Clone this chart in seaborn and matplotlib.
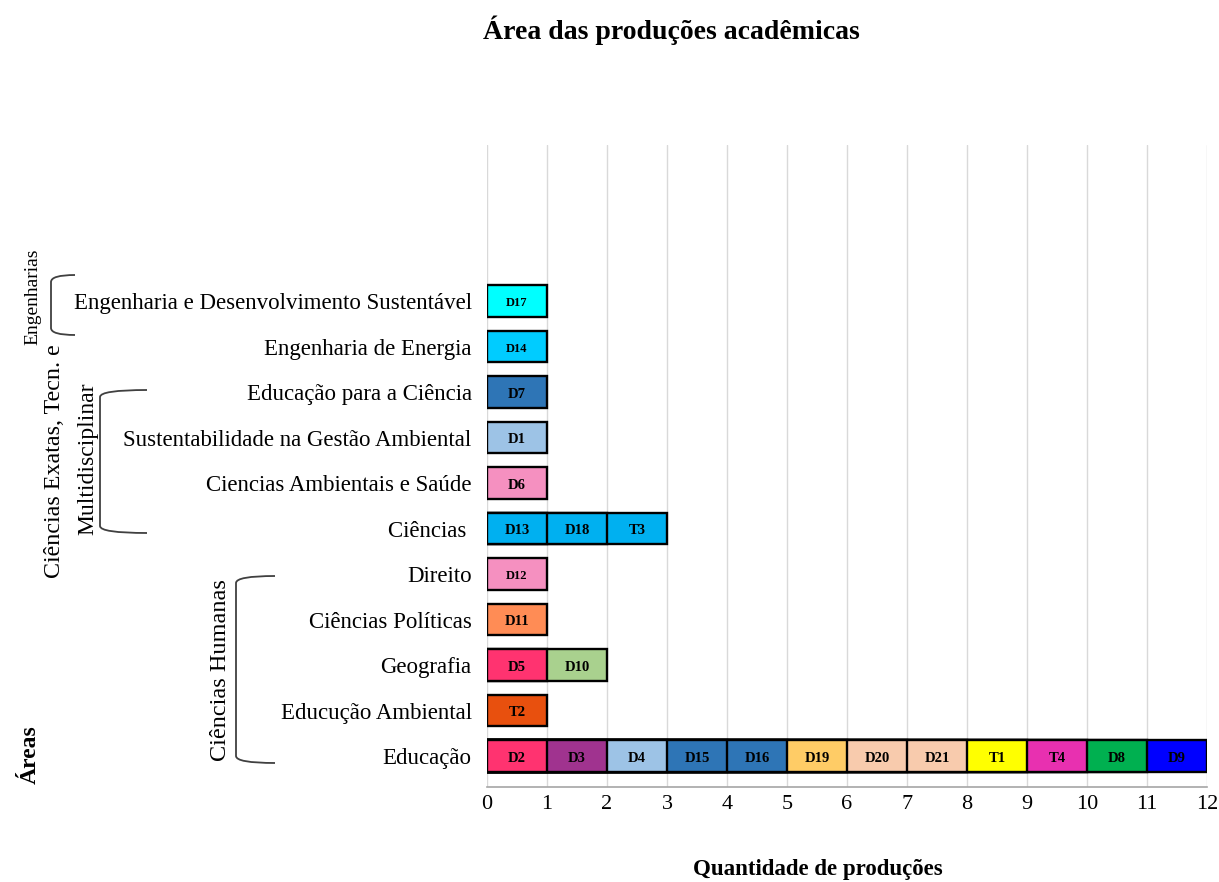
import matplotlib
matplotlib.use("Agg")
import matplotlib.pyplot as plt
from matplotlib.path import Path
from matplotlib.patches import PathPatch
import seaborn as sns
import pandas as pd

# Categories, listed from top to bottom
categories = [
    "Engenharia e Desenvolvimento Sustentável",
    "Engenharia de Energia",
    "Educação para a Ciência",
    "Sustentabilidade na Gestão Ambiental",
    "Ciencias Ambientais e Saúde",
    "Ciências ",
    "Direito",
    "Ciências Políticas",
    "Geografia",
    "Educução Ambiental",
    "Educação",
]

# Productions (dissertations D / theses T) in each category, one unit each
productions = [
    ["D17"],
    ["D14"],
    ["D7"],
    ["D1"],
    ["D6"],
    ["D13", "D18", "T3"],
    ["D12"],
    ["D11"],
    ["D5", "D10"],
    ["T2"],
    ["D2", "D3", "D4", "D15", "D16", "D19", "D20", "D21", "T1", "T4", "D8", "D9"],
]

production_colors = {
    "D17": "#00FFFF", "D14": "#00CCFF", "D7": "#2E75B6", "D1": "#9DC3E6",
    "D6": "#F590C0", "D13": "#00B0F0", "D18": "#00B0F0", "T3": "#00B0F0",
    "D12": "#F590C0", "D11": "#FF8C55", "D5": "#FF3370", "D10": "#A9D18E",
    "T2": "#E8500E", "D2": "#FF3370", "D3": "#A0338F", "D4": "#9DC3E6",
    "D15": "#2E75B6", "D16": "#2E75B6", "D19": "#FFCC66", "D20": "#F8CBAD",
    "D21": "#F8CBAD", "T1": "#FFFF00", "T4": "#E830B0", "D8": "#00B050",
    "D9": "#0000FF",
}

x_ticks = list(range(0, 13))

title = "Área das produções acadêmicas"
x_title = "Quantidade de produções"
y_title = "Áreas"

# Long table: one row per production with its running total in the category
records = []
for cat, codes in zip(categories, productions):
    total = 0
    for pos, code in enumerate(codes):
        total += 1
        records.append({"category": cat, "code": code, "position": pos,
                        "total": total})
df = pd.DataFrame(records)

sns.set_theme(style="white")
plt.rcParams["font.family"] = ["Liberation Serif", "DejaVu Serif"]
plt.rcParams["text.color"] = "black"
plt.rcParams["xtick.color"] = "black"
plt.rcParams["ytick.color"] = "black"

W, H = 1219, 882
fig = plt.figure(figsize=(W / 100, H / 100), dpi=100)
ax = fig.add_axes([487 / W, 1 - 787 / H, 720 / W, 642 / H])

# Stacked bars: draw running totals from the outermost segment inwards
for pos in sorted(df["position"].unique(), reverse=True):
    layer = df[df["position"] == pos]
    palette = {row.category: production_colors[row.code]
               for row in layer.itertuples()}
    sns.barplot(data=layer, x="total", y="category", hue="category",
                order=categories, palette=palette, orient="h", dodge=False,
                width=0.7, saturation=1, edgecolor="black", linewidth=1.7,
                legend=False, ax=ax)

small_labels = {"D17", "D14", "D12"}
for row in df.itertuples():
    y = categories.index(row.category)
    ax.text(row.total - 0.5, y + 0.05, row.code, ha="center", va="center",
            fontsize=9 if row.code in small_labels else 10.5,
            fontweight="bold", color="black")

ax.set_xlim(0, 12)
ax.set_ylim(len(categories) - 1 + 0.68, -3.43)
ax.set_xticks(x_ticks)
ax.set_xticklabels([str(t) for t in x_ticks], fontsize=16)
ax.tick_params(axis="x", direction="out", length=4, width=1,
               color="#A6A6A6", labelcolor="black", pad=2)
ax.tick_params(axis="y", length=0, pad=11, labelsize=16.5,
               labelcolor="black")
ax.set_xlabel("")
ax.set_ylabel("")
ax.xaxis.grid(True, color="#D9D9D9", linewidth=1.0)
ax.yaxis.grid(False)
ax.set_axisbelow(True)
for side in ["top", "right", "left"]:
    ax.spines[side].set_visible(False)
ax.spines["bottom"].set_color("#A6A6A6")
ax.spines["bottom"].set_linewidth(1.2)


def fx(px):
    return px / W


def fy(py):
    return 1 - py / H


fig.text(fx(671), fy(30), title, ha="center", va="center",
         fontsize=20, fontweight="bold")
fig.text(fx(818), fy(870), x_title, ha="center", va="center",
         fontsize=16.5, fontweight="bold")
fig.text(fx(30), fy(755), y_title, ha="center", va="center",
         rotation=90, fontsize=17, fontweight="bold")

# Group names and their brackets
fig.text(fx(33), fy(297), "Engenharias", ha="center", va="center",
         rotation=90, fontsize=14)
fig.text(fx(55), fy(461), "Ciências Exatas, Tecn. e", ha="center",
         va="center", rotation=90, fontsize=17.3)
fig.text(fx(88), fy(459), "Multidisciplinar", ha="center", va="center",
         rotation=90, fontsize=17)
fig.text(fx(220), fy(670), "Ciências Humanas", ha="center", va="center",
         rotation=90, fontsize=17.5)


def bracket(xv, top, bot, xe):
    verts = [
        (fx(xe), fy(top)), (fx(xv), fy(top)), (fx(xv), fy(top + 7)),
        (fx(xv), fy(bot - 7)),
        (fx(xv), fy(bot)), (fx(xe), fy(bot)),
    ]
    codes = [Path.MOVETO, Path.CURVE3, Path.CURVE3, Path.LINETO,
             Path.CURVE3, Path.CURVE3]
    fig.add_artist(PathPatch(Path(verts, codes), transform=fig.transFigure,
                             fill=False, edgecolor="#404040", linewidth=1.3))


bracket(51, 275, 335, 75)
bracket(100, 390, 533, 147)
bracket(236, 576, 763, 275)

fig.savefig("out.png", dpi=100)
